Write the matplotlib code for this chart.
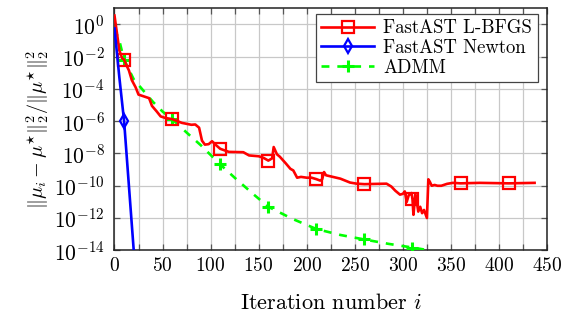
import numpy as np
import matplotlib
matplotlib.use("Agg")
import matplotlib.pyplot as plt
from matplotlib.ticker import FixedLocator, NullFormatter, NullLocator

plt.rcParams['font.family'] = 'cmr10'
plt.rcParams['mathtext.fontset'] = 'cm'
plt.rcParams['axes.unicode_minus'] = False
plt.rcParams['axes.formatter.use_mathtext'] = True

# ---- data (log10 of relative error) ----
lbfgs_iter = [0, 2, 5, 8, 10, 13, 15, 18, 22, 25, 30, 36, 39, 44, 48, 53, 60, 70, 80, 84, 88,
              91, 94, 98, 101.5, 105, 110, 119, 134, 140, 150, 155, 160, 164, 165.6, 169, 172,
              178, 183, 186, 190, 194, 200, 205, 210, 214, 216, 218, 220, 225, 235, 245, 252,
              260, 283, 288, 292, 297, 300, 302, 304, 306, 309, 310, 311, 313, 315, 316, 318,
              320, 322, 325, 326.5, 328, 330, 333, 336, 340, 346, 352, 360, 380, 410, 437]
lbfgs_log = [0.55, -0.3, -1.6, -2.1, -2.18, -2.6, -2.85, -3.45, -3.9, -4.35, -4.45, -4.57, -5.05,
             -5.4, -5.7, -5.8, -5.87, -6.1, -6.22, -6.2, -6.4, -7.2, -7.45, -7.42, -7.24, -7.45,
             -7.71, -7.9, -7.92, -8.12, -8.17, -8.27, -8.44, -8.3, -7.6, -8.05, -8.2, -8.6, -8.95,
             -9.05, -9.5, -9.45, -9.5, -9.5, -9.59, -9.68, -9.6, -9.15, -9.35, -9.42, -9.56, -9.8,
             -9.87, -9.9, -9.87, -10.05, -10.3, -10.55, -10.5, -10.35, -11.0, -10.6, -10.45,
             -10.85, -11.8, -10.5, -11.2, -11.6, -11.3, -11.7, -11.5, -12.0, -9.6, -9.75, -10.0,
             -9.95, -10.0, -10.0, -9.88, -9.82, -9.85, -9.82, -9.85, -9.82]

newton_iter = [0, 5, 10, 22]
newton_log = [-0.25, -3.25, -6.0, -15.6]

admm_iter = [0, 5, 10, 20, 30, 40, 50, 60, 75, 90, 110, 125, 145, 160, 185, 210, 235, 260,
             285, 310, 322]
admm_log = [-0.25, -1.0, -2.2, -3.4, -4.1, -4.8, -5.4, -5.87, -6.7, -7.5, -8.68, -9.5, -10.55,
            -11.3, -12.05, -12.68, -13.05, -13.33, -13.6, -13.83, -13.95]

mark_iters = [10, 60, 110, 160, 210, 260, 310, 360, 410]

xticks = [0, 50, 100, 150, 200, 250, 300, 350, 400, 450]
yticks = [1e0, 1e-2, 1e-4, 1e-6, 1e-8, 1e-10, 1e-12, 1e-14]


def mark_idx(xs):
    return [i for i, x in enumerate(xs) if x in mark_iters]


fig = plt.figure(figsize=(5.64, 3.18), dpi=100)
ax = fig.add_axes([0.203, 0.2129, 0.767, 0.7610])

ax.semilogy(lbfgs_iter, 10.0 ** np.array(lbfgs_log), color='#ff0000', lw=1.9,
            marker='s', markersize=8, markerfacecolor='none', markeredgewidth=1.6,
            markevery=mark_idx(lbfgs_iter), label='FastAST L-BFGS', zorder=4)
ax.semilogy(newton_iter, 10.0 ** np.array(newton_log), color='#0000ff', lw=1.9,
            marker='d', markersize=7.5, markerfacecolor='none', markeredgewidth=1.6,
            markevery=mark_idx(newton_iter), label='FastAST Newton', zorder=5)
ax.semilogy(admm_iter, 10.0 ** np.array(admm_log), color='#00ff00', lw=1.9,
            dashes=(3.0, 3.0), marker='+', markersize=8.5, markeredgewidth=2.2,
            markevery=mark_idx(admm_iter), label='ADMM', zorder=3)

ax.set_xlim(0, 450)
ax.set_ylim(1e-14, 10)
ax.xaxis.set_major_locator(FixedLocator(xticks))
ax.xaxis.set_minor_locator(FixedLocator([25, 75, 125, 175, 225, 275, 325, 375, 425]))
ax.yaxis.set_major_locator(FixedLocator(yticks))
ax.yaxis.set_minor_locator(NullLocator())
ax.yaxis.set_minor_formatter(NullFormatter())

ax.grid(True, which='both', axis='x', color='#c8c8c8', lw=0.9)
ax.grid(True, which='major', axis='y', color='#c8c8c8', lw=0.9)
ax.set_axisbelow(True)

ax.tick_params(which='both', direction='in', top=True, right=True, length=4.5,
               width=0.9, color='#555555', labelsize=14)
ax.tick_params(axis='x', pad=5)
ax.tick_params(axis='y', pad=7, labelsize=15.5)
for s in ax.spines.values():
    s.set_linewidth(1.1)
    s.set_color('#222222')

ax.set_xlabel(r'Iteration number $i$', fontsize=16, labelpad=13)
ax.set_ylabel(r'$\|\mu_i - \mu^{\star}\|_2^2/\|\mu^{\star}\|_2^2$', fontsize=14.5, labelpad=2)

leg = ax.legend(loc='upper right', bbox_to_anchor=(0.978, 0.978), fontsize=13.5,
                frameon=True, fancybox=False, edgecolor='#444444', framealpha=1,
                handlelength=2.8, labelspacing=0.1, borderpad=0.3, handletextpad=0.5,
                numpoints=1, borderaxespad=0)
leg.get_frame().set_linewidth(0.9)

fig.savefig('out.png', dpi=100)
